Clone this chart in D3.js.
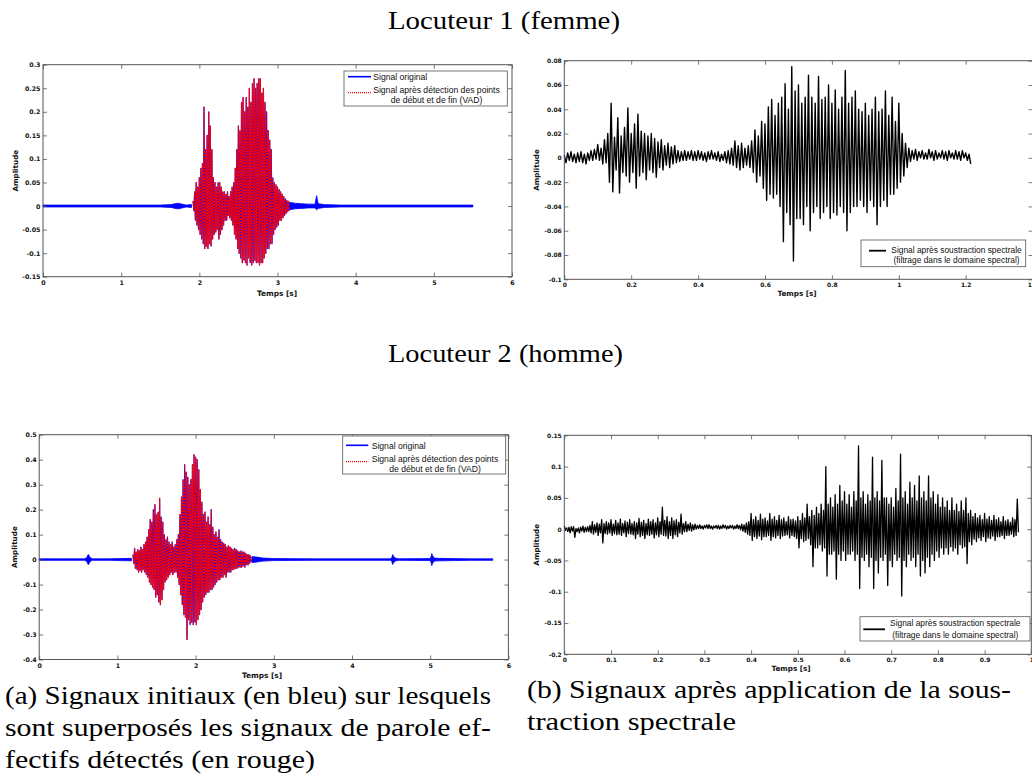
<!DOCTYPE html>
<html><head><meta charset="utf-8">
<script src="https://cdn.jsdelivr.net/npm/d3@7"></script>
<style>body{margin:0;background:#fff;}svg{display:block;}</style>
</head><body>
<svg id="c" width="1032" height="778"></svg>
<script>
// ---------------- DATA ----------------
const titles = ["Locuteur 1 (femme)", "Locuteur 2 (homme)"];
const captionA = ["(a) Signaux initiaux (en bleu) sur lesquels", "sont superposés les signaux de parole ef-", "fectifs détectés (en rouge)"];
const captionB = ["(b) Signaux après application de la sous-", "traction spectrale"];
const legendVAD = ["Signal original", "Signal après détection des points", "de début et de fin (VAD)"];
const legendSS = ["Signal après soustraction spectrale", "(filtrage dans le domaine spectral)"];
const xLabel = "Temps [s]", yLabel = "Amplitude";

const ticksX1 = [0,1,2,3,4,5,6];
const ticksY1 = [-0.15,-0.1,-0.05,0,0.05,0.1,0.15,0.2,0.25,0.3];
const ticksX2 = [0,0.2,0.4,0.6,0.8,1,1.2,1.4];
const ticksY2 = [-0.1,-0.08,-0.06,-0.04,-0.02,0,0.02,0.04,0.06,0.08];
const ticksX3 = [0,1,2,3,4,5,6];
const ticksY3 = [-0.4,-0.3,-0.2,-0.1,0,0.1,0.2,0.3,0.4,0.5];
const ticksX4 = [0,0.1,0.2,0.3,0.4,0.5,0.6,0.7,0.8,0.9,1];
const ticksY4 = [-0.2,-0.15,-0.1,-0.05,0,0.05,0.1,0.15];

// Locuteur 1, original signal (blue): quiet parts (envelope) and speech (peak/trough every 0.02 s from 1.92 s)
const f1PreT  = [0,0.5,1.0,1.5,1.64,1.69,1.73,1.78,1.83,1.9];
const f1PreHi = [0.002,0.002,0.002,0.002,0.003,0.005,0.006,0.004,0.002,0.003];
const f1PreLo = [-0.002,-0.002,-0.002,-0.002,-0.003,-0.005,-0.006,-0.004,-0.002,-0.003];
const f1PostT  = [3.15,3.22,3.3,3.4,3.48,3.5,3.52,3.6,3.8,4.2,4.8,5.5];
const f1PostHi = [0.008,0.006,0.005,0.004,0.004,0.022,0.005,0.003,0.002,0.002,0.002,0.002];
const f1PostLo = [-0.008,-0.006,-0.005,-0.004,-0.004,-0.008,-0.005,-0.003,-0.002,-0.002,-0.002,-0.002];
const f1SpeechStart = 1.92, f1SpeechStep = 0.02;
const f1SpeechHi = [0.01,0.03,0.05,0.04,0.06,0.08,0.09,0.21,0.12,0.15,0.20,0.17,0.12,0.06,0.05,0.04,0.05,0.05,0.04,0.03,0.03,0.025,0.03,0.02,0.03,0.04,0.05,0.08,0.12,0.17,0.16,0.22,0.23,0.20,0.23,0.21,0.25,0.22,0.26,0.27,0.25,0.26,0.27,0.27,0.24,0.25,0.22,0.20,0.16,0.14,0.12,0.06,0.05,0.045,0.04,0.035,0.03,0.025,0.02,0.015,0.012,0.01];
const f1SpeechLo = [-0.01,-0.03,-0.04,-0.05,-0.06,-0.07,-0.08,-0.09,-0.085,-0.09,-0.08,-0.085,-0.07,-0.06,-0.055,-0.05,-0.07,-0.06,-0.05,-0.04,-0.03,-0.03,-0.02,-0.025,-0.03,-0.04,-0.06,-0.07,-0.09,-0.10,-0.11,-0.12,-0.115,-0.12,-0.125,-0.11,-0.12,-0.125,-0.12,-0.115,-0.12,-0.12,-0.125,-0.12,-0.12,-0.11,-0.10,-0.09,-0.09,-0.08,-0.08,-0.06,-0.05,-0.045,-0.04,-0.03,-0.03,-0.025,-0.02,-0.015,-0.012,-0.01];

// Locuteur 1, after spectral subtraction (peak/trough every 0.01 s from 0 s)
const f2Start = 0, f2Step = 0.01;
const f2Hi = [0.002,0.004,0.005,0.003,0.004,0.005,0.003,0.004,0.006,0.007,0.011,0.008,0.015,0.02,0.045,0.017,0.033,0.018,0.025,0.041,0.02,0.028,0.036,0.022,0.02,0.018,0.02,0.016,0.013,0.015,0.01,0.012,0.009,0.01,0.006,0.005,0.006,0.005,0.006,0.005,0.006,0.005,0.004,0.005,0.006,0.004,0.005,0.003,0.005,0.006,0.008,0.014,0.01,0.012,0.008,0.01,0.014,0.023,0.018,0.03,0.028,0.042,0.048,0.035,0.045,0.05,0.061,0.04,0.075,0.055,0.06,0.045,0.05,0.068,0.05,0.045,0.067,0.048,0.05,0.06,0.045,0.056,0.04,0.05,0.072,0.045,0.05,0.055,0.04,0.038,0.045,0.035,0.04,0.05,0.038,0.04,0.055,0.035,0.05,0.03,0.045,0.02,0.012,0.008,0.006,0.007,0.005,0.006,0.004,0.007,0.005,0.006,0.004,0.006,0.005,0.006,0.004,0.006,0.005,0.006,0.004,0.003];
const f2Lo = [-0.004,-0.002,-0.003,-0.004,-0.003,-0.004,-0.005,-0.002,-0.002,-0.001,-0.002,-0.005,-0.004,-0.02,-0.028,-0.01,-0.029,-0.012,-0.015,-0.02,-0.012,-0.025,-0.015,-0.012,-0.018,-0.01,-0.012,-0.016,-0.008,-0.01,-0.006,-0.008,-0.005,-0.004,-0.003,-0.002,-0.002,-0.001,-0.002,-0.002,-0.001,-0.002,-0.003,-0.001,-0.001,-0.002,-0.003,-0.002,-0.004,-0.005,-0.006,-0.008,-0.01,-0.008,-0.006,-0.008,-0.012,-0.02,-0.015,-0.025,-0.035,-0.03,-0.033,-0.03,-0.04,-0.069,-0.045,-0.055,-0.085,-0.05,-0.05,-0.055,-0.04,-0.06,-0.045,-0.04,-0.05,-0.045,-0.04,-0.05,-0.045,-0.047,-0.04,-0.045,-0.06,-0.045,-0.04,-0.04,-0.035,-0.04,-0.045,-0.035,-0.04,-0.055,-0.04,-0.035,-0.04,-0.03,-0.03,-0.025,-0.02,-0.015,-0.008,-0.003,-0.001,-0.002,0.000,-0.001,-0.001,0.000,-0.002,-0.001,0.000,-0.001,-0.002,0.000,-0.001,-0.001,-0.002,0.000,-0.002,-0.005];

// Locuteur 2, original signal (blue)
const h1PreT  = [0,0.3,0.58,0.61,0.625,0.635,0.65,0.68,0.9,1.18];
const h1PreHi = [0.003,0.003,0.003,0.008,0.02,0.018,0.008,0.003,0.003,0.005];
const h1PreLo = [-0.003,-0.003,-0.003,-0.008,-0.02,-0.018,-0.008,-0.003,-0.003,-0.005];
const h1PostT  = [2.72,2.78,2.86,3.0,3.5,4.0,4.49,4.51,4.52,4.53,4.55,4.6,5.0,5.01,5.02,5.03,5.05,5.1,5.3,5.5,5.8];
const h1PostHi = [0.012,0.01,0.006,0.004,0.003,0.003,0.003,0.008,0.02,0.014,0.006,0.003,0.004,0.01,0.024,0.016,0.006,0.005,0.004,0.003,0.003];
const h1PostLo = [-0.012,-0.01,-0.006,-0.004,-0.003,-0.003,-0.003,-0.008,-0.02,-0.014,-0.006,-0.003,-0.004,-0.01,-0.024,-0.016,-0.006,-0.005,-0.004,-0.003,-0.003];
const h1SpeechStart = 1.20, h1SpeechStep = 0.02;
const h1SpeechHi = [0.02,0.045,0.03,0.04,0.035,0.05,0.04,0.06,0.07,0.09,0.12,0.16,0.15,0.20,0.22,0.18,0.19,0.245,0.17,0.15,0.10,0.08,0.09,0.07,0.06,0.07,0.05,0.06,0.08,0.10,0.18,0.25,0.32,0.38,0.35,0.33,0.30,0.32,0.38,0.42,0.41,0.40,0.36,0.28,0.23,0.18,0.19,0.15,0.17,0.14,0.20,0.13,0.10,0.11,0.09,0.12,0.08,0.07,0.065,0.06,0.05,0.055,0.05,0.045,0.04,0.045,0.04,0.035,0.03,0.035,0.03,0.03,0.025,0.02,0.02,0.015];
const h1SpeechLo = [-0.015,-0.035,-0.04,-0.05,-0.045,-0.05,-0.04,-0.05,-0.06,-0.07,-0.09,-0.10,-0.11,-0.12,-0.15,-0.14,-0.17,-0.18,-0.16,-0.12,-0.09,-0.08,-0.07,-0.06,-0.05,-0.06,-0.05,-0.05,-0.07,-0.10,-0.14,-0.18,-0.22,-0.23,-0.32,-0.24,-0.26,-0.25,-0.26,-0.25,-0.26,-0.24,-0.22,-0.20,-0.17,-0.15,-0.14,-0.13,-0.13,-0.12,-0.12,-0.11,-0.10,-0.09,-0.08,-0.08,-0.07,-0.07,-0.06,-0.07,-0.05,-0.05,-0.05,-0.04,-0.04,-0.035,-0.035,-0.03,-0.03,-0.03,-0.025,-0.03,-0.02,-0.02,-0.015,-0.01];

// Locuteur 2, after spectral subtraction (peak/trough every 0.005 s from 0 s)
const h2Start = 0, h2Step = 0.005;
const h2Hi = [0.005,0.002,0.003,0.004,0.004,0.001,0.002,0.003,0.005,0.003,0.004,0.006,0.012,0.007,0.01,0.008,0.015,0.009,0.012,0.01,
  0.015,0.008,0.014,0.01,0.016,0.009,0.013,0.011,0.015,0.009,0.012,0.01,0.017,0.011,0.014,0.009,0.016,0.012,0.015,0.01,
  0.018,0.012,0.035,0.014,0.02,0.012,0.018,0.013,0.015,0.011,0.024,0.009,0.012,0.008,0.01,0.007,0.008,0.006,0.007,0.005,
  0.006,0.007,0.007,0.005,0.005,0.006,0.006,0.005,0.007,0.006,0.005,0.006,0.006,0.005,0.007,0.006,0.008,0.007,0.01,0.012,
  0.025,0.015,0.02,0.014,0.024,0.016,0.018,0.013,0.025,0.016,0.02,0.014,0.022,0.015,0.018,0.012,0.02,0.015,0.016,0.013,
  0.02,0.014,0.025,0.018,0.04,0.02,0.03,0.022,0.035,0.025,0.04,0.03,0.1,0.04,0.05,0.035,0.055,0.04,0.07,0.045,
  0.06,0.04,0.055,0.035,0.06,0.045,0.133,0.05,0.06,0.04,0.055,0.045,0.115,0.05,0.06,0.045,0.11,0.05,0.05,0.04,
  0.05,0.035,0.065,0.045,0.12,0.05,0.06,0.04,0.075,0.05,0.07,0.045,0.085,0.05,0.06,0.045,0.085,0.05,0.06,0.04,
  0.055,0.035,0.05,0.035,0.045,0.03,0.05,0.03,0.04,0.028,0.045,0.03,0.05,0.025,0.03,0.02,0.025,0.018,0.022,0.015,
  0.025,0.016,0.02,0.014,0.022,0.015,0.018,0.012,0.02,0.013,0.015,0.011,0.018,0.015,0.048];
const h2Lo = [-0.002,-0.004,-0.006,-0.003,-0.013,-0.004,-0.006,-0.003,-0.005,-0.004,-0.004,-0.006,-0.008,-0.005,-0.01,-0.006,-0.022,-0.007,-0.008,-0.006,
  -0.01,-0.007,-0.009,-0.008,-0.01,-0.006,-0.012,-0.007,-0.008,-0.009,-0.015,-0.008,-0.012,-0.01,-0.015,-0.009,-0.01,-0.008,-0.014,-0.009,
  -0.012,-0.008,-0.01,-0.011,-0.015,-0.01,-0.015,-0.009,-0.012,-0.006,-0.008,-0.004,-0.004,-0.002,-0.003,-0.001,0.000,0.001,0.001,0.000,
  0.002,0.001,0.001,0.000,0.002,0.001,0.000,0.001,0.002,0.000,0.001,0.002,0.000,0.001,0.001,-0.001,-0.003,-0.005,-0.008,-0.01,
  -0.018,-0.012,-0.015,-0.011,-0.017,-0.012,-0.012,-0.01,-0.018,-0.012,-0.014,-0.01,-0.015,-0.011,-0.01,-0.009,-0.014,-0.01,-0.012,-0.015,
  -0.03,-0.015,-0.02,-0.018,-0.015,-0.025,-0.06,-0.03,-0.03,-0.025,-0.035,-0.03,-0.075,-0.04,-0.04,-0.035,-0.08,-0.04,-0.05,-0.035,
  -0.05,-0.04,-0.04,-0.035,-0.05,-0.04,-0.095,-0.045,-0.05,-0.04,-0.06,-0.045,-0.095,-0.05,-0.07,-0.045,-0.05,-0.04,-0.09,-0.05,
  -0.06,-0.04,-0.05,-0.045,-0.107,-0.05,-0.06,-0.04,-0.05,-0.045,-0.06,-0.04,-0.075,-0.05,-0.07,-0.045,-0.06,-0.04,-0.05,-0.035,
  -0.045,-0.03,-0.04,-0.03,-0.04,-0.028,-0.035,-0.03,-0.04,-0.025,-0.03,-0.028,-0.055,-0.02,-0.025,-0.016,-0.02,-0.014,-0.018,-0.012,
  -0.02,-0.014,-0.015,-0.011,-0.018,-0.012,-0.012,-0.01,-0.015,-0.01,-0.01,-0.008,-0.012,-0.01,-0.005];

// ---------------- DRAWING ----------------
const svg = d3.select('#c');
const AX = '#555';
const BLUE = '#0000ff', RED = '#ff0000', BLACK = '#000';
const fmt = d => String(+(+d).toFixed(4));

function zigzag(t0, dt, hi, lo) {
  const pts = [];
  const n = Math.min(hi.length, lo.length);
  for (let i = 0; i < n; i++) {
    pts.push([t0 + i * dt, hi[i]]);
    pts.push([t0 + i * dt + dt / 2, lo[i]]);
  }
  return pts;
}
function envelope(t, hi, lo) { return t.map((v, i) => ({t: v, hi: hi[i], lo: lo[i]})); }

function makePanel(c) {
  const x = d3.scaleLinear().domain(c.xd).range([c.L, c.R]);
  const y = d3.scaleLinear().domain(c.yd).range([c.B, c.T]);
  const g = svg.append('g');
  const sig = g.append('g');
  const frame = g.append('g');
  frame.append('rect').attr('x', c.L).attr('y', c.T).attr('width', c.R - c.L).attr('height', c.B - c.T)
    .attr('fill', 'none').attr('stroke', AX).attr('stroke-width', 1);
  const style = (a, labels) => {
    a.select('.domain').remove();
    a.selectAll('line').attr('stroke', AX).attr('stroke-width', 0.8);
    a.attr('font-family', 'DejaVu Sans').attr('font-weight', 'bold').attr('font-size', c.tickFs);
    a.selectAll('text').attr('fill', '#111');
    if (!labels) a.selectAll('text').remove();
  };
  frame.append('g').attr('transform', `translate(0,${c.B})`)
    .call(d3.axisBottom(x).tickValues(c.xt).tickFormat(fmt).tickSizeInner(-4).tickSizeOuter(0).tickPadding(c.xPad))
    .call(a => style(a, true));
  frame.append('g').attr('transform', `translate(0,${c.T})`)
    .call(d3.axisTop(x).tickValues(c.xt).tickSizeInner(-4).tickSizeOuter(0))
    .call(a => style(a, false));
  frame.append('g').attr('transform', `translate(${c.L},0)`)
    .call(d3.axisLeft(y).tickValues(c.yt).tickFormat(fmt).tickSizeInner(-4).tickSizeOuter(0).tickPadding(2.5))
    .call(a => style(a, true));
  frame.append('g').attr('transform', `translate(${c.R},0)`)
    .call(d3.axisRight(y).tickValues(c.yt).tickSizeInner(-4).tickSizeOuter(0))
    .call(a => style(a, false));
  frame.append('text').text(xLabel).attr('x', c.xLabX).attr('y', c.xLabY)
    .attr('text-anchor', 'middle').attr('font-family', 'DejaVu Sans').attr('font-weight', 'bold')
    .attr('font-size', c.labFs).attr('fill', '#111');
  frame.append('text').text(yLabel)
    .attr('transform', `translate(${c.yLabX},${(c.T + c.B) / 2}) rotate(-90)`)
    .attr('text-anchor', 'middle').attr('font-family', 'DejaVu Sans').attr('font-weight', 'bold')
    .attr('font-size', c.labFs2).attr('fill', '#111');
  return {x, y, sig, frame};
}

function drawBand(p, env, color) {
  const area = d3.area().x(d => p.x(d.t)).y0(d => p.y(d.lo)).y1(d => p.y(d.hi));
  p.sig.append('path').attr('d', area(env)).attr('fill', color).attr('stroke', color).attr('stroke-width', 0.8);
}
function drawZig(p, pts, color, w, dash) {
  const line = d3.line().x(d => p.x(d[0])).y(d => p.y(d[1]));
  const el = p.sig.append('path').attr('d', line(pts)).attr('fill', 'none').attr('stroke', color)
    .attr('stroke-width', w).attr('stroke-linejoin', 'round');
  if (dash) el.attr('stroke-dasharray', dash);
}

function legendVADbox(p, b) {
  const lg = p.frame.append('g');
  lg.append('rect').attr('x', b.x0).attr('y', b.y0).attr('width', b.x1 - b.x0).attr('height', b.y1 - b.y0)
    .attr('fill', '#fff').attr('stroke', AX).attr('stroke-width', 0.8);
  lg.append('line').attr('x1', b.lx0).attr('x2', b.lx1).attr('y1', b.ly1).attr('y2', b.ly1)
    .attr('stroke', BLUE).attr('stroke-width', 1.6);
  lg.append('line').attr('x1', b.lx0).attr('x2', b.lx1).attr('y1', b.ly2).attr('y2', b.ly2)
    .attr('stroke', RED).attr('stroke-width', 1.3).attr('stroke-dasharray', '1,1');
  const tx = (s, x, y, anchor) => lg.append('text').text(s).attr('x', x).attr('y', y).attr('text-anchor', anchor)
    .attr('font-family', 'Liberation Sans, Arial, sans-serif').attr('font-size', 8.6).attr('fill', '#111');
  tx(legendVAD[0], b.tx, b.b1, 'start');
  tx(legendVAD[1], b.tc, b.b2, 'middle');
  tx(legendVAD[2], b.tc, b.b3, 'middle');
}
function legendSSbox(p, b) {
  const lg = p.frame.append('g');
  lg.append('rect').attr('x', b.x0).attr('y', b.y0).attr('width', b.x1 - b.x0).attr('height', b.y1 - b.y0)
    .attr('fill', '#fff').attr('stroke', AX).attr('stroke-width', 0.8);
  lg.append('line').attr('x1', b.lx0).attr('x2', b.lx1).attr('y1', b.ly).attr('y2', b.ly)
    .attr('stroke', BLACK).attr('stroke-width', 1.8);
  const tx = (s, y) => lg.append('text').text(s).attr('x', b.tc).attr('y', y).attr('text-anchor', 'middle')
    .attr('font-family', 'Liberation Sans, Arial, sans-serif').attr('font-size', 8.4).attr('fill', '#111');
  tx(legendSS[0], b.b1);
  tx(legendSS[1], b.b2);
}

// Panel 1: Locuteur 1 original + VAD
const p1 = makePanel({L: 43, R: 512, T: 64.7, B: 276.7, xd: [0, 6], yd: [-0.15, 0.3], xt: ticksX1, yt: ticksY1,
  tickFs: 6.3, xPad: 4, labFs: 7.4, labFs2: 7.2, xLabX: 277, xLabY: 296, yLabX: 18});
drawBand(p1, envelope(f1PreT, f1PreHi, f1PreLo), BLUE);
drawBand(p1, envelope(f1PostT, f1PostHi, f1PostLo), BLUE);
const f1Pts = zigzag(f1SpeechStart, f1SpeechStep, f1SpeechHi, f1SpeechLo);
drawZig(p1, f1Pts, BLUE, 1.2);
drawZig(p1, f1Pts, RED, 1.2, '2,1');
legendVADbox(p1, {x0: 344, x1: 507.3, y0: 71, y1: 106, lx0: 348, lx1: 371, ly1: 76.7, ly2: 92.7,
  tx: 373.3, tc: 436.5, b1: 80, b2: 93.2, b3: 103.3});

// Panel 2: Locuteur 1 after spectral subtraction
const p2 = makePanel({L: 564.3, R: 1032.6, T: 60.7, B: 279.3, xd: [0, 1.4], yd: [-0.1, 0.08], xt: ticksX2, yt: ticksY2,
  tickFs: 6.0, xPad: 3.5, labFs: 7.2, labFs2: 7.2, xLabX: 797, xLabY: 296, yLabX: 539});
drawZig(p2, zigzag(f2Start, f2Step, f2Hi, f2Lo), BLACK, 1.4);
legendSSbox(p2, {x0: 861, x1: 1025.7, y0: 240, y1: 266.7, lx0: 869, lx1: 886, ly: 250.7, tc: 956.5, b1: 253.3, b2: 263.3});

// Panel 3: Locuteur 2 original + VAD
const p3 = makePanel({L: 39.2, R: 508.4, T: 434.7, B: 659.5, xd: [0, 6], yd: [-0.4, 0.5], xt: ticksX3, yt: ticksY3,
  tickFs: 6.3, xPad: 4, labFs: 7.4, labFs2: 7.2, xLabX: 262, xLabY: 678, yLabX: 17});
drawBand(p3, envelope(h1PreT, h1PreHi, h1PreLo), BLUE);
drawBand(p3, envelope(h1PostT, h1PostHi, h1PostLo), BLUE);
const h1Pts = zigzag(h1SpeechStart, h1SpeechStep, h1SpeechHi, h1SpeechLo);
drawZig(p3, h1Pts, BLUE, 1.2);
drawZig(p3, h1Pts, RED, 1.2, '2,1');
legendVADbox(p3, {x0: 342.7, x1: 505.7, y0: 436, y1: 474, lx0: 346, lx1: 368.3, ly1: 445.3, ly2: 461.7,
  tx: 371.7, tc: 435, b1: 449, b2: 461.5, b3: 471.5});

// Panel 4: Locuteur 2 after spectral subtraction
const p4 = makePanel({L: 564.3, R: 1031.3, T: 435.3, B: 654.3, xd: [0, 1], yd: [-0.2, 0.15], xt: ticksX4, yt: ticksY4,
  tickFs: 6.0, xPad: 3.5, labFs: 7.2, labFs2: 7.2, xLabX: 791, xLabY: 671, yLabX: 539});
drawZig(p4, zigzag(h2Start, h2Step, h2Hi, h2Lo), BLACK, 1.3);
legendSSbox(p4, {x0: 860, x1: 1030, y0: 616.7, y1: 641, lx0: 863.3, lx1: 885, ly: 629.3, tc: 955.3, b1: 626, b2: 637.5});

// Titles and captions: serif text, widened to the Computer-Modern widths seen in the reference
const SERIF = '"Liberation Serif", "DejaVu Serif", serif';
function stext(s, x, y, fs, width) {
  return svg.append('text').text(s).attr('x', x).attr('y', y)
    .style('font-family', SERIF).attr('font-size', fs).attr('fill', '#000')
    .attr('textLength', width).attr('lengthAdjust', 'spacingAndGlyphs');
}
const TFS = 25.5, CFS = 25.5;
stext(titles[0], 388, 29, TFS, 232);
stext(titles[1], 388, 362, TFS, 235);
const capAWidths = [486, 486, 310];
captionA.forEach((s, i) => stext(s, 5, 704 + 32 * i, CFS, capAWidths[i]));
const capBWidths = [484, 209];
captionB.forEach((s, i) => stext(s, 527, 698 + 32 * i, CFS, capBWidths[i]));
</script>
</body></html>
